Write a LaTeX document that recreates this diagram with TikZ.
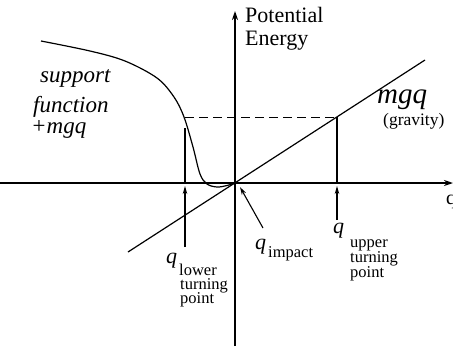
\documentclass[tikz,border=0pt]{standalone}
\usepackage{fontspec}
\setmainfont{Liberation Serif}
\usetikzlibrary{arrows.meta}
\begin{document}
\begin{tikzpicture}[x=1pt,y=-1pt,
  axis/.style={line width=1.8pt,-{Stealth[length=9pt,width=6pt]}},
  thin line/.style={line width=1.2pt},
  ptr/.style={line width=1.1pt,-{Stealth[length=8pt,width=4.5pt]}},
  lbl/.style={inner sep=0pt,anchor=base west},
  big/.style={lbl,font=\fontsize{22}{22}\selectfont},
  ital/.style={lbl,font=\fontsize{23}{23}\selectfont\itshape},
  small/.style={lbl,font=\fontsize{16.5}{16.5}\selectfont},
  qsym/.style={lbl,font=\fontsize{22}{22}\selectfont\itshape}]
\useasboundingbox (0,0) rectangle (453,349);
% coordinates
\coordinate (O) at (235,183);
\coordinate (xL) at (0,183);
\coordinate (xR) at (453,183);
\coordinate (yB) at (235,346);
\coordinate (yT) at (235,11);
\coordinate (gL) at (128,252);
\coordinate (gR) at (425,60);
\coordinate (lowTop) at (185,128);
\coordinate (lowAx) at (185,183);
\coordinate (upTop) at (337,117);
\coordinate (upAx) at (337,183);
\coordinate (dashL) at (185,117);
\coordinate (lowArrS) at (185,247);
\coordinate (lowArrE) at (185,186);
\coordinate (upArrS) at (337,220);
\coordinate (upArrE) at (337,186);
\coordinate (impS) at (263,228);
\coordinate (impE) at (240,187);
% axes
\draw[axis] (xL) -- (xR);
\draw[axis] (yB) -- (yT);
% gravity line
\draw[thin line] (gL) -- (gR);
% support function + mgq curve
\draw[thin line] plot[smooth,tension=0.55] coordinates {(41,41) (90,51) (125,61) (157,78) (174,97) (184,117) (193,147) (200,174) (207,184) (217,187) (227,185.5) (235,183)};
% dashed level
\draw[line width=1pt,dash pattern=on 9pt off 5pt] (dashL) -- (upTop);
% turning point verticals
\draw[thin line] (lowTop) -- (lowAx);
\draw[thin line] (upTop) -- (upAx);
% pointers
\draw[ptr] (lowArrS) -- (lowArrE);
\draw[ptr] (upArrS) -- (upArrE);
\draw[ptr] (impS) -- (impE);
% labels
\node[big] (pot) at (245,22) {Potential};
\node[big] (ene) at (245,45) {Energy};
\node[ital] (sup) at (40,82) {support};
\node[ital] (fun) at (33,112) {function};
\node[ital] (pmg) at (31,133) {+mgq};
\node[lbl,font=\fontsize{29}{29}\selectfont\itshape] (mgq) at (377,103) {mgq};
\node[lbl,font=\fontsize{17.5}{17.5}\selectfont] (grav) at (383,125) {(gravity)};
\node[lbl,font=\fontsize{20}{20}\selectfont] (qax) at (446,204) {q};
\node[qsym] (ql) at (166,263) {q};
\node[small] (ql1) at (179,275) {lower};
\node[small] (ql2) at (180,289) {turning};
\node[small] (ql3) at (180,303) {point};
\node[qsym] (qu) at (333,233) {q};
\node[small] (qu1) at (350,247) {upper};
\node[small] (qu2) at (350,262) {turning};
\node[small] (qu3) at (350,277) {point};
\node[qsym] (qi) at (255,249) {q};
\node[small] (qi1) at (268,257) {impact};
\end{tikzpicture}
\end{document}
